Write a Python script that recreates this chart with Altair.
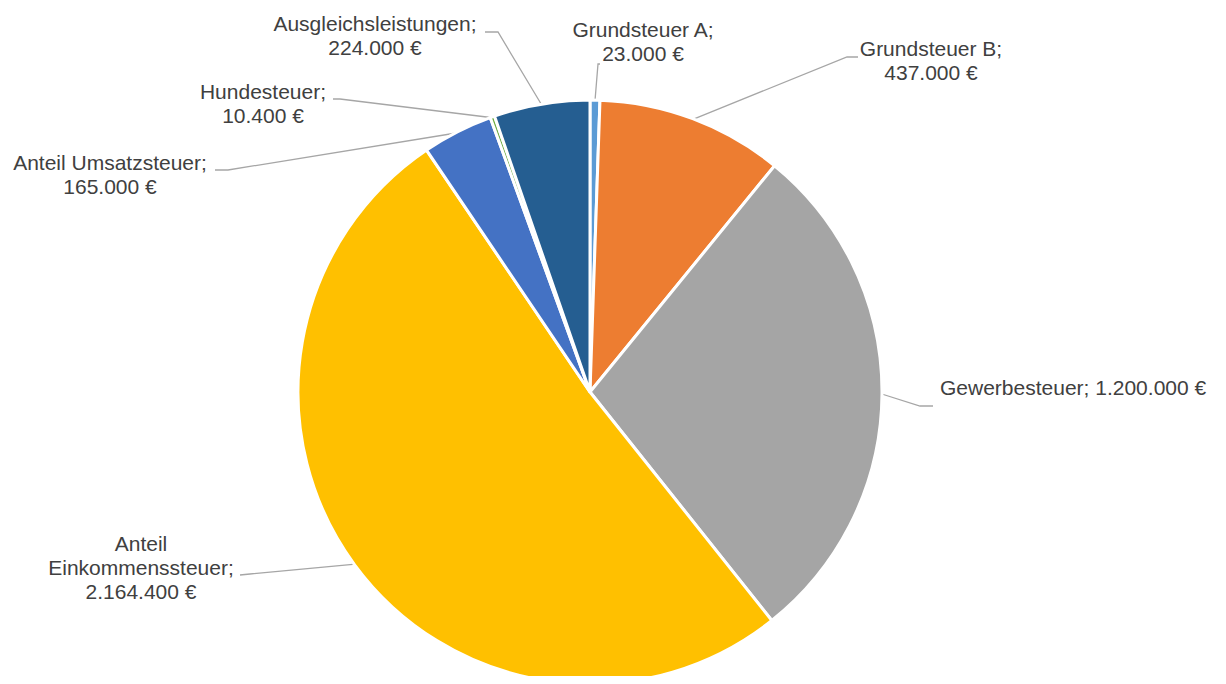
import math
import altair as alt
import pandas as pd

# ---------------- data ----------------
categories = [
    "Grundsteuer A",
    "Grundsteuer B",
    "Gewerbesteuer",
    "Anteil Einkommenssteuer",
    "Anteil Umsatzsteuer",
    "Hundesteuer",
    "Ausgleichsleistungen",
]
values = [23000, 437000, 1200000, 2164400, 165000, 10400, 224000]
colors = ["#5B9BD5", "#ED7D31", "#A5A5A5", "#FFC000", "#4472C4", "#70AD47", "#255E91"]

# how each name is broken in its data label
label_names = [
    "Grundsteuer A;",
    "Grundsteuer B;",
    "Gewerbesteuer;",
    "Anteil\nEinkommenssteuer;",
    "Anteil Umsatzsteuer;",
    "Hundesteuer;",
    "Ausgleichsleistungen;",
]
label_seps = ["\n", "\n", " ", "\n", "\n", "\n", "\n"]

# ---------------- layout (page pixels) ----------------
M = 8  # page margin
W, H = 1210, 668
CX, CY, R = 590, 392, 292
# (x, y of first text line)
label_pos = [(643, 31), (931, 50), (940, 389), (141, 545), (110, 164), (263, 93), (375, 25)]
label_align = ["center", "center", "left", "center", "center", "center", "center"]
elbows = [(598, 64), (847, 57), (920, 406), (250, 574), (228, 170), (340, 99), (498, 32)]
ends = [(600, 64), (858, 57), (933, 406), (240, 575), (215, 170), (333, 99), (485, 32)]


def fmt_eur(v):
    return f"{v:,}".replace(",", ".") + " €"


total = sum(values)
rows, line_rows, label_rows = [], [], []
cum = 0
for i, (c, v) in enumerate(zip(categories, values)):
    rows.append({"idx": i, "category": c, "value": v})
    mid = (cum + v / 2) / total * 2 * math.pi
    cum += v
    sx = CX + (R - 1) * math.sin(mid)
    sy = CY - (R - 1) * math.cos(mid)
    pts = [(sx, sy), elbows[i], ends[i]]
    for k, (px, py) in enumerate(pts):
        line_rows.append({"category": c, "k": k, "px": px - M, "py": py - M})
    lx, ly = label_pos[i]
    label_rows.append({
        "category": c,
        "text": label_names[i] + label_seps[i] + fmt_eur(v),
        "lx": lx - M,
        "ly": ly - M,
        "align": label_align[i],
    })

pie_df = pd.DataFrame(rows)
line_df = pd.DataFrame(line_rows)
label_df = pd.DataFrame(label_rows)

pie = alt.Chart(pie_df).mark_arc(radius=R, stroke="white", strokeWidth=3).encode(
    theta=alt.Theta("value:Q", stack=True),
    order=alt.Order("idx:Q"),
    color=alt.Color("category:N", scale=alt.Scale(domain=categories, range=colors), legend=None),
    x=alt.value(CX - M),
    y=alt.value(CY - M),
)

leaders = alt.Chart(line_df).mark_line(color="#A6A6A6", strokeWidth=1.3).encode(
    x=alt.X("px:Q", scale=None),
    y=alt.Y("py:Q", scale=None),
    detail="category:N",
    order="k:Q",
)

text_center = alt.Chart(label_df).transform_filter(alt.datum.align == "center").mark_text(
    font="Liberation Sans", fontSize=21, color="#404040", align="center",
    baseline="middle", lineBreak="\n", lineHeight=24,
).encode(
    x=alt.X("lx:Q", scale=None),
    y=alt.Y("ly:Q", scale=None),
    text="text:N",
)

text_left = alt.Chart(label_df).transform_filter(alt.datum.align == "left").mark_text(
    font="Liberation Sans", fontSize=21, color="#404040", align="left",
    baseline="middle", lineBreak="\n", lineHeight=24,
).encode(
    x=alt.X("lx:Q", scale=None),
    y=alt.Y("ly:Q", scale=None),
    text="text:N",
)

chart = alt.layer(leaders, pie, text_center, text_left).properties(
    width=W, height=H, padding=0, autosize=alt.AutoSizeParams(type="none"),
    background="white",
).configure_view(stroke=None)

chart.save("out.html", embed_options={"renderer": "svg", "actions": False})
